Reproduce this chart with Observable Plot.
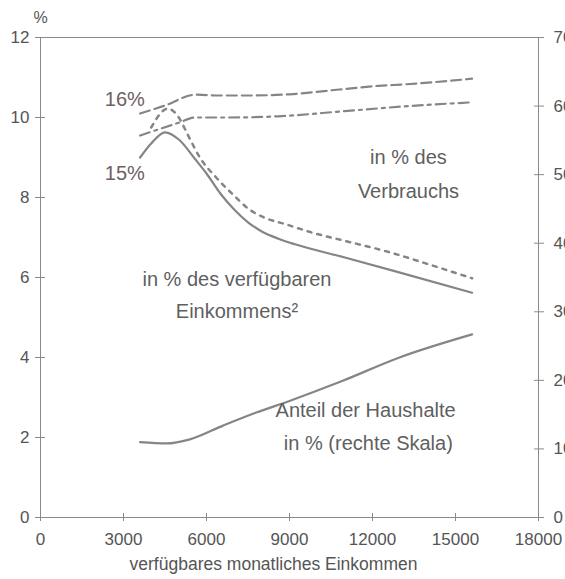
<!DOCTYPE html>
<html>
<head>
<meta charset="utf-8">
<script src="https://cdn.jsdelivr.net/npm/d3@7"></script>
<script src="https://cdn.jsdelivr.net/npm/@observablehq/plot@0.6"></script>
<style>
  html, body { margin: 0; padding: 0; background: #fff; overflow: hidden; }
  #chart { width: 565px; height: 579px; overflow: hidden; }
</style>
</head>
<body>
<div id="chart"></div>
<script>
// Income (verfügbares monatliches Einkommen) and shares in %
const verbrauchA = [ // dashed, in % des Verbrauchs
  [3600, 10.1], [4500, 10.3], [5600, 10.57], [6500, 10.55], [7500, 10.55],
  [9000, 10.58], [10800, 10.7], [12200, 10.79], [13200, 10.83], [15300, 10.95], [15600, 10.97]
];
const verbrauchB = [ // dash-dot, in % des Verbrauchs
  [3600, 9.55], [5000, 9.87], [5600, 10.0], [6800, 10.0], [8600, 10.03],
  [11000, 10.16], [13400, 10.29], [15600, 10.38]
];
const einkommenB = [ // dotted, in % des verfügbaren Einkommens
  [4000, 9.75], [4600, 10.22], [5000, 10.0], [5300, 9.6], [5760, 9.0], [6350, 8.5],
  [6950, 8.08], [7550, 7.7], [8150, 7.48], [8870, 7.33], [9830, 7.12], [11030, 6.91],
  [12470, 6.66], [14030, 6.33], [15600, 5.98]
];
const einkommenA = [ // solid, in % des verfügbaren Einkommens
  [3600, 9.0], [4000, 9.35], [4500, 9.63], [5000, 9.45], [5600, 8.95], [6000, 8.6],
  [6500, 8.1], [7000, 7.7], [7500, 7.38], [8000, 7.15], [8600, 6.97], [9200, 6.83],
  [11000, 6.5], [12800, 6.16], [15600, 5.62]
];
const haushalte = [ // Anteil der Haushalte in % (rechte Skala, 0–70)
  [3600, 11.0], [4560, 10.8], [5400, 11.4], [6600, 13.4], [7800, 15.3], [9000, 17.0],
  [10900, 19.9], [12950, 23.3], [15600, 26.7]
];
const xTicks = [0, 3000, 6000, 9000, 12000, 15000, 18000];
const yTicks = [0, 2, 4, 6, 8, 10, 12];
const rightTicks = [0, 10, 20, 30, 40, 50, 60, 70];
const leftMax = 12, rightMax = 70;

const annotations = [
  {x: 3050, y: 10.45, text: "16%", cls: "pct"},
  {x: 3050, y: 8.6, text: "15%", cls: "pct"},
  {x: 13300, y: 9.0, text: "in % des", cls: "ann"},
  {x: 13300, y: 8.15, text: "Verbrauchs", cls: "ann"},
  {x: 7100, y: 5.95, text: "in % des verfügbaren", cls: "ann"},
  {x: 7100, y: 5.15, text: "Einkommens²", cls: "ann"},
  {x: 11750, y: 2.68, text: "Anteil der Haushalte", cls: "ann"},
  {x: 11850, y: 1.84, text: "in % (rechte Skala)", cls: "ann"}
];

const rightPos = rightTicks.map(t => t * leftMax / rightMax);
const lineColor = "#858585";
const axisColor = "#8a8a8a";
const textColor = "#555";
const font = "Liberation Sans, Arial, sans-serif";

const chart = Plot.plot({
  width: 580,
  height: 579,
  marginLeft: 40,
  marginRight: 42,
  marginTop: 37,
  marginBottom: 62,
  style: {fontFamily: font, maxWidth: "none", overflow: "visible", background: "white"},
  x: {domain: [0, 18000]},
  y: {domain: [0, leftMax]},
  marks: [
    Plot.frame({stroke: axisColor, strokeWidth: 1}),
    // left axis: crossing ticks + labels
    Plot.axisY(yTicks, {anchor: "left", tickSize: 10, dx: 5, stroke: axisColor, tickFormat: () => "", label: null}),
    Plot.axisY(yTicks, {anchor: "left", tickSize: 0, tickPadding: 11, fontSize: 17, fill: textColor, label: null}),
    // right axis
    Plot.axisY(rightPos, {anchor: "right", tickSize: 10, dx: -5, stroke: axisColor, tickFormat: () => "", label: null}),
    Plot.axisY(rightPos, {anchor: "right", tickSize: 0, tickPadding: 15, fontSize: 17, fill: textColor, label: null,
      tickFormat: d => String(Math.round(d * rightMax / leftMax))}),
    // bottom axis
    Plot.axisX(xTicks, {anchor: "bottom", tickSize: 8, dy: -4, stroke: axisColor, tickFormat: () => "", label: null}),
    Plot.axisX(xTicks, {anchor: "bottom", tickSize: 0, tickPadding: 15, fontSize: 17, fill: textColor, label: null,
      tickFormat: d => String(d)}),
    Plot.text(["%"], {frameAnchor: "top-left", dy: -26, text: d => d, fontSize: 16, fill: textColor, textAnchor: "middle"}),
    Plot.text(["verfügbares monatliches Einkommen"], {frameAnchor: "bottom", dx: -16, dy: 52, text: d => d, fontSize: 17.5, fill: textColor}),
    // curves
    Plot.line(verbrauchA, {x: d => d[0], y: d => d[1], stroke: lineColor, strokeWidth: 2.2, strokeDasharray: "10,5", curve: "monotone-x"}),
    Plot.line(verbrauchB, {x: d => d[0], y: d => d[1], stroke: lineColor, strokeWidth: 2.2, strokeDasharray: "10,5,3,5", curve: "monotone-x"}),
    Plot.line(einkommenB, {x: d => d[0], y: d => d[1], stroke: lineColor, strokeWidth: 2.5, strokeDasharray: "4,6", curve: "monotone-x"}),
    Plot.line(einkommenA, {x: d => d[0], y: d => d[1], stroke: lineColor, strokeWidth: 2.2, curve: "monotone-x"}),
    Plot.line(haushalte, {x: d => d[0], y: d => d[1] * leftMax / rightMax, stroke: lineColor, strokeWidth: 2.2, curve: "monotone-x"}),
    // annotations
    Plot.text(annotations.filter(d => d.cls === "ann"), {x: "x", y: "y", text: "text", fontSize: 20, fill: "#5f5f5f"}),
    Plot.text(annotations.filter(d => d.cls === "pct"), {x: "x", y: "y", text: "text", fontSize: 20, fill: "#6e6060"})
  ]
});
document.getElementById("chart").appendChild(chart);
</script>
</body>
</html>
